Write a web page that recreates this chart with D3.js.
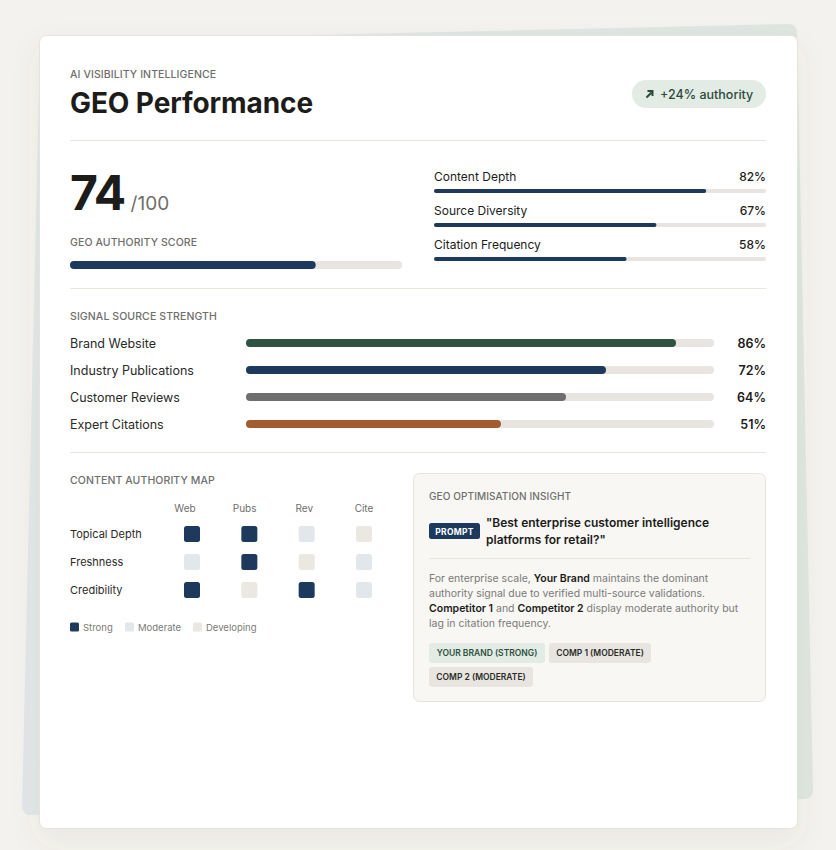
<html><head><title>GEO Performance</title>
<meta charset="UTF-8">
<script src="https://cdn.jsdelivr.net/npm/d3@7"></script>
<style>
  body {
    margin: 0;
    background-color: #f3f2ee;
    font-family: Inter, "Noto Sans", Arial, sans-serif;
  }
  svg text {
    font-family: Inter, "Noto Sans", Arial, sans-serif;
  }
</style>
</head>
<body>
  <div id="chart"></div>

  <script>
    // ---- data ----
    const headline = "GEO Performance";
    const kicker = "AI VISIBILITY INTELLIGENCE";
    const authorityChange = "+24% authority";
    const authorityScore = 74;

    const metricNames = ["Content Depth", "Source Diversity", "Citation Frequency"];
    const metricValues = [82, 67, 58];

    const sourceNames = ["Brand Website", "Industry Publications", "Customer Reviews", "Expert Citations"];
    const sourceValues = [86, 72, 64, 51];
    const sourceColors = ["#2e5341", "#1d3a5c", "#6f6f6f", "#a25c2f"];

    const mapColumns = ["Web", "Pubs", "Rev", "Cite"];
    const mapRows = ["Topical Depth", "Freshness", "Credibility"];
    const mapLevels = [
      ["Strong", "Strong", "Moderate", "Developing"],
      ["Moderate", "Strong", "Developing", "Moderate"],
      ["Strong", "Developing", "Strong", "Moderate"]
    ];
    const levelNames = ["Strong", "Moderate", "Developing"];
    const levelColors = ["#1d3a5c", "#e2e7ec", "#ebe7e1"];

    const promptLines = ["\"Best enterprise customer intelligence", "platforms for retail?\""];
    const insightLines = [
      [["For enterprise scale, ", false], ["Your Brand", true], [" maintains the dominant", false]],
      [["authority signal due to verified multi-source validations.", false]],
      [["Competitor 1", true], [" and ", false], ["Competitor 2", true], [" display moderate authority but", false]],
      [["lag in citation frequency.", false]]
    ];
    const tags = ["YOUR BRAND (STRONG)", "COMP 1 (MODERATE)", "COMP 2 (MODERATE)"];

    // ---- setup ----
    const width = 836;
    const height = 850;
    const ink = "#1c1c1a";
    const muted = "#6e6e6b";
    const track = "#e8e5e0";
    const navy = "#1d3a5c";

    const svg = d3.select("#chart")
      .append("svg")
      .attr("width", width)
      .attr("height", height);

    const defs = svg.append("defs");

    const grad = defs.append("linearGradient")
      .attr("id", "backGrad")
      .attr("gradientUnits", "userSpaceOnUse")
      .attr("x1", 20).attr("y1", 0).attr("x2", 815).attr("y2", 0);
    grad.append("stop").attr("offset", "0%").attr("stop-color", "#e1e6ea");
    grad.append("stop").attr("offset", "100%").attr("stop-color", "#dfe6e0");

    const shadow = defs.append("filter")
      .attr("id", "cardShadow")
      .attr("x", "-10%").attr("y", "-10%").attr("width", "120%").attr("height", "125%");
    shadow.append("feDropShadow")
      .attr("dx", 0).attr("dy", 12)
      .attr("stdDeviation", 14)
      .attr("flood-color", "#6b5f48")
      .attr("flood-opacity", 0.07);

    // tilted card behind
    const backPts = [[48, 49], [789, 32], [805, 791], [30, 807]];
    svg.append("polygon")
      .attr("points", backPts.map(p => p.join(",")).join(" "))
      .attr("fill", "url(#backGrad)")
      .attr("stroke", "url(#backGrad)")
      .attr("stroke-width", 16)
      .attr("stroke-linejoin", "round");

    // main card
    svg.append("rect")
      .attr("x", 39.5).attr("y", 35.5)
      .attr("width", 758).attr("height", 793)
      .attr("rx", 7)
      .attr("fill", "#fff")
      .attr("stroke", "#e6e3dc")
      .attr("filter", "url(#cardShadow)");

    const left = 70;
    const right = 766;

    function divider(y, x1 = left, x2 = right) {
      svg.append("line")
        .attr("x1", x1).attr("x2", x2)
        .attr("y1", y + 0.5).attr("y2", y + 0.5)
        .attr("stroke", "#e8e5df");
    }

    function label(x, y, text) {
      return svg.append("text")
        .attr("x", x).attr("y", y)
        .attr("font-size", 10.5)
        .attr("font-weight", 500)
        .attr("letter-spacing", 0.1)
        .attr("fill", muted)
        .text(text);
    }

    // ---- header ----
    label(left, 78, kicker);

    svg.append("text")
      .attr("x", left).attr("y", 113)
      .attr("font-size", 28)
      .attr("font-weight", 700)
      .attr("letter-spacing", -0.1)
      .attr("fill", ink)
      .text(headline);

    svg.append("rect")
      .attr("x", 632).attr("y", 80)
      .attr("width", 134).attr("height", 28)
      .attr("rx", 14)
      .attr("fill", "#e2ebe4");

    svg.append("path")
      .attr("d", "M646.5,97.5 L651.5,92.5 M647.5,91 L652.5,91 L652.5,96")
      .attr("stroke", "#2d4a3a")
      .attr("stroke-width", 2)
      .attr("fill", "none");

    svg.append("text")
      .attr("x", 660).attr("y", 99)
      .attr("font-size", 12.5)
      .attr("font-weight", 500)
      .attr("fill", "#2d4a3a")
      .text(authorityChange);

    divider(140);

    // ---- score ----
    const score = svg.append("text")
      .attr("x", left).attr("y", 210)
      .attr("fill", ink);
    score.append("tspan")
      .attr("font-size", 48)
      .attr("font-weight", 700)
      .attr("letter-spacing", -1.5)
      .text(authorityScore);
    score.append("tspan")
      .attr("dx", 6)
      .attr("font-size", 19)
      .attr("fill", muted)
      .text("/100");

    label(left, 246, "GEO AUTHORITY SCORE");

    const scoreX = d3.scaleLinear().domain([0, 100]).range([left, 402]);

    svg.append("rect")
      .attr("x", scoreX(0)).attr("y", 261)
      .attr("width", scoreX(100) - scoreX(0)).attr("height", 8)
      .attr("rx", 4)
      .attr("fill", track);
    svg.append("rect")
      .attr("x", scoreX(0)).attr("y", 261)
      .attr("width", scoreX(authorityScore) - scoreX(0)).attr("height", 8)
      .attr("rx", 4)
      .attr("fill", navy);

    // ---- metrics ----
    const metricX = d3.scaleLinear().domain([0, 100]).range([434, right]);
    const metricY = d3.scalePoint().domain(metricNames).range([177, 245]);

    const metric = svg.append("g")
      .selectAll("g")
      .data(metricNames)
      .enter()
      .append("g");

    metric.append("text")
      .attr("x", metricX(0))
      .attr("y", d => metricY(d) + 4)
      .attr("font-size", 12)
      .attr("fill", ink)
      .text(d => d);

    metric.append("text")
      .attr("x", right)
      .attr("y", d => metricY(d) + 4)
      .attr("text-anchor", "end")
      .attr("font-size", 12)
      .attr("font-weight", 500)
      .attr("fill", ink)
      .text((d, i) => metricValues[i] + "%");

    metric.append("rect")
      .attr("x", metricX(0))
      .attr("y", d => metricY(d) + 12)
      .attr("width", metricX(100) - metricX(0))
      .attr("height", 4)
      .attr("rx", 2)
      .attr("fill", track);

    metric.append("rect")
      .attr("x", metricX(0))
      .attr("y", d => metricY(d) + 12)
      .attr("width", (d, i) => metricX(metricValues[i]) - metricX(0))
      .attr("height", 4)
      .attr("rx", 2)
      .attr("fill", navy);

    divider(288);

    // ---- signal source strength ----
    label(left, 320, "SIGNAL SOURCE STRENGTH");

    // fill scale runs a little past the drawn track, as in the source
    const sourceX = d3.scaleLinear().domain([0, 100]).range([246, 746]);
    const trackEnd = 714;
    const sourceY = d3.scalePoint().domain(sourceNames).range([343, 424]);

    const source = svg.append("g")
      .selectAll("g")
      .data(sourceNames)
      .enter()
      .append("g");

    source.append("text")
      .attr("x", left)
      .attr("y", d => sourceY(d) + 4.5)
      .attr("font-size", 12.5)
      .attr("fill", "#2a2a28")
      .text(d => d);

    source.append("rect")
      .attr("x", sourceX(0))
      .attr("y", d => sourceY(d) - 4)
      .attr("width", trackEnd - sourceX(0))
      .attr("height", 8)
      .attr("rx", 4)
      .attr("fill", track);

    source.append("rect")
      .attr("x", sourceX(0))
      .attr("y", d => sourceY(d) - 4)
      .attr("width", (d, i) => sourceX(sourceValues[i]) - sourceX(0))
      .attr("height", 8)
      .attr("rx", 4)
      .attr("fill", (d, i) => sourceColors[i]);

    source.append("text")
      .attr("x", right)
      .attr("y", d => sourceY(d) + 4.5)
      .attr("text-anchor", "end")
      .attr("font-size", 12.5)
      .attr("font-weight", 600)
      .attr("fill", ink)
      .text((d, i) => sourceValues[i] + "%");

    divider(452);

    // ---- content authority map ----
    label(left, 484, "CONTENT AUTHORITY MAP");

    const headX = d3.scalePoint().domain(mapColumns).range([185, 364]);
    const cellX = d3.scalePoint().domain(mapColumns).range([192, 364]);
    const rowY = d3.scalePoint().domain(mapRows).range([534, 590]);
    const levelColor = d3.scaleOrdinal().domain(levelNames).range(levelColors);

    svg.append("g")
      .selectAll("text")
      .data(mapColumns)
      .enter()
      .append("text")
      .attr("x", d => headX(d))
      .attr("y", 512)
      .attr("text-anchor", "middle")
      .attr("font-size", 10)
      .attr("fill", muted)
      .text(d => d);

    svg.append("g")
      .selectAll("text")
      .data(mapRows)
      .enter()
      .append("text")
      .attr("x", left)
      .attr("y", d => rowY(d) + 4)
      .attr("font-size", 11)
      .attr("fill", "#2a2a28")
      .text(d => d);

    const cells = [];
    mapRows.forEach((r, i) => {
      mapColumns.forEach((c, j) => {
        cells.push({row: r, col: c, level: mapLevels[i][j]});
      });
    });

    svg.append("g")
      .selectAll("rect")
      .data(cells)
      .enter()
      .append("rect")
      .attr("x", d => cellX(d.col) - 8)
      .attr("y", d => rowY(d.row) - 8)
      .attr("width", 16)
      .attr("height", 16)
      .attr("rx", 2.5)
      .attr("fill", d => levelColor(d.level));

    // legend
    const legendX = [70, 125, 193];
    const legend = svg.append("g")
      .selectAll("g")
      .data(levelNames)
      .enter()
      .append("g")
      .attr("transform", (d, i) => `translate(${legendX[i]},627)`);

    legend.append("rect")
      .attr("x", 0).attr("y", -4.5)
      .attr("width", 9).attr("height", 9)
      .attr("rx", 1.5)
      .attr("fill", d => levelColor(d));

    legend.append("text")
      .attr("x", 13).attr("y", 3.5)
      .attr("font-size", 9.5)
      .attr("fill", "#7a7a77")
      .text(d => d);

    // ---- insight panel ----
    svg.append("rect")
      .attr("x", 413.5).attr("y", 473.5)
      .attr("width", 352).attr("height", 228)
      .attr("rx", 6)
      .attr("fill", "#f8f7f4")
      .attr("stroke", "#e6e3dc");

    label(429, 500, "GEO OPTIMISATION INSIGHT").attr("font-size", 10);

    svg.append("rect")
      .attr("x", 429).attr("y", 523)
      .attr("width", 51).attr("height", 16)
      .attr("rx", 2.5)
      .attr("fill", navy);

    svg.append("text")
      .attr("x", 454.5).attr("y", 534.5)
      .attr("text-anchor", "middle")
      .attr("font-size", 8.5)
      .attr("font-weight", 700)
      .attr("letter-spacing", 0.3)
      .attr("fill", "#fff")
      .text("PROMPT");

    svg.append("g")
      .selectAll("text")
      .data(promptLines)
      .enter()
      .append("text")
      .attr("x", 486)
      .attr("y", (d, i) => 527 + i * 17)
      .attr("font-size", 12)
      .attr("font-weight", 600)
      .attr("fill", ink)
      .text(d => d);

    divider(558, 429, 750);

    const para = svg.append("g")
      .selectAll("text")
      .data(insightLines)
      .enter()
      .append("text")
      .attr("x", 429)
      .attr("y", (d, i) => 582 + i * 15)
      .attr("font-size", 10.5);

    para.selectAll("tspan")
      .data(d => d)
      .enter()
      .append("tspan")
      .attr("font-weight", d => d[1] ? 600 : 400)
      .attr("fill", d => d[1] ? ink : "#7a7a77")
      .text(d => d[0]);

    const tagBox = [[429, 643, 116], [549, 643, 102], [429, 667, 104]];
    const tagFill = ["#e2ebe4", "#e8e5e0", "#e8e5e0"];
    const tagText = ["#2d5140", "#2a2a28", "#2a2a28"];

    const tag = svg.append("g")
      .selectAll("g")
      .data(tags)
      .enter()
      .append("g")
      .attr("transform", (d, i) => `translate(${tagBox[i][0]},${tagBox[i][1]})`);

    tag.append("rect")
      .attr("width", (d, i) => tagBox[i][2])
      .attr("height", 20)
      .attr("rx", 3)
      .attr("fill", (d, i) => tagFill[i]);

    tag.append("text")
      .attr("x", (d, i) => tagBox[i][2] / 2)
      .attr("y", 13)
      .attr("text-anchor", "middle")
      .attr("font-size", 8.5)
      .attr("font-weight", 600)
      .attr("fill", (d, i) => tagText[i])
      .text(d => d);
  </script>
</body>
</html>
